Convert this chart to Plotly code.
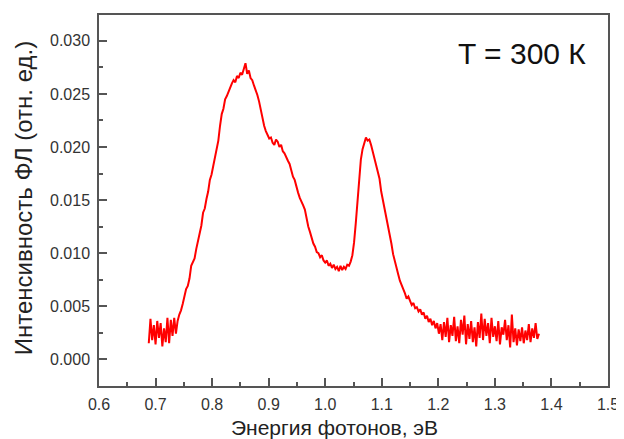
import plotly.graph_objects as go

# Photon energy, eV
energy = [
    0.688, 0.691, 0.694, 0.697, 0.700, 0.703, 0.706, 0.709, 0.712, 0.715,
    0.718, 0.721, 0.724, 0.727, 0.730, 0.733, 0.736, 0.739, 0.742, 0.745,
    0.748, 0.751, 0.754, 0.757, 0.760, 0.763, 0.766, 0.769, 0.772, 0.775,
    0.778, 0.781, 0.784, 0.787, 0.790, 0.793, 0.796, 0.799, 0.802, 0.805,
    0.808, 0.811, 0.814, 0.817, 0.820, 0.823, 0.826, 0.829, 0.832, 0.835,
    0.838, 0.841, 0.844, 0.847, 0.850, 0.853, 0.856, 0.859, 0.862, 0.865,
    0.868, 0.871, 0.874, 0.877, 0.880, 0.883, 0.886, 0.889, 0.892, 0.895,
    0.898, 0.901, 0.904, 0.907, 0.910, 0.913, 0.916, 0.919, 0.922, 0.925,
    0.928, 0.931, 0.934, 0.937, 0.940, 0.943, 0.946, 0.949, 0.952, 0.955,
    0.958, 0.961, 0.964, 0.967, 0.970, 0.973, 0.976, 0.979, 0.982, 0.985,
    0.988, 0.991, 0.994, 0.997, 1.000, 1.003, 1.006, 1.009, 1.012, 1.015,
    1.018, 1.021, 1.024, 1.027, 1.030, 1.033, 1.036, 1.039, 1.042, 1.045,
    1.048, 1.051, 1.054, 1.057, 1.060, 1.063, 1.066, 1.069, 1.072, 1.075,
    1.078, 1.081, 1.084, 1.087, 1.090, 1.093, 1.096, 1.099, 1.102, 1.105,
    1.108, 1.111, 1.114, 1.117, 1.120, 1.123, 1.126, 1.129, 1.132, 1.135,
    1.138, 1.141, 1.144, 1.147, 1.150, 1.153, 1.156, 1.159, 1.162, 1.165,
    1.168, 1.171, 1.174, 1.177, 1.180, 1.183, 1.186, 1.189, 1.192, 1.195,
    1.198, 1.201, 1.204, 1.207, 1.210, 1.213, 1.216, 1.219, 1.222, 1.225,
    1.228, 1.231, 1.234, 1.237, 1.240, 1.243, 1.246, 1.249, 1.252, 1.255,
    1.258, 1.261, 1.264, 1.267, 1.270, 1.273, 1.276, 1.279, 1.282, 1.285,
    1.288, 1.291, 1.294, 1.297, 1.300, 1.303, 1.306, 1.309, 1.312, 1.315,
    1.318, 1.321, 1.324, 1.327, 1.330, 1.333, 1.336, 1.339, 1.342, 1.345,
    1.348, 1.351, 1.354, 1.357, 1.360, 1.363, 1.366, 1.369, 1.372, 1.375,
    1.378,
]

# PL intensity, units of 1e-3 (arb. units)
intensity_milli = [
    1.5, 3.8, 1.8, 3.2, 1.4, 3.6, 2.0, 3.4, 1.2, 2.9,
    1.6, 3.9, 1.5, 3.7, 2.2, 3.9, 2.4, 3.6, 4.2, 4.6,
    5.2, 5.9, 6.6, 6.9, 7.6, 8.8, 9.2, 9.5, 10.4, 11.2,
    11.8, 12.6, 13.8, 14.2, 15.1, 15.8, 16.9, 17.4, 18.2, 19.0,
    20.1, 20.6, 22.0, 23.1, 23.6, 24.5, 24.8, 25.3, 25.6, 26.0,
    26.3, 26.1, 26.7, 26.5, 27.0, 26.8, 27.3, 27.9, 26.9, 27.2,
    26.5, 26.3, 25.8, 25.4, 24.9, 24.3, 23.5, 22.8, 22.0, 21.5,
    21.2, 20.8, 20.9, 20.4, 20.2, 20.7, 20.5, 20.0, 20.2, 19.6,
    19.4, 19.0, 18.7, 18.4, 17.8, 17.2, 16.9, 16.2, 15.7, 15.2,
    14.9, 14.5, 14.1, 13.2, 12.5, 12.0, 11.3, 10.9, 10.6, 10.1,
    10.0, 9.6, 9.8, 9.3, 9.1, 9.3, 8.8, 9.0, 8.6, 8.9,
    8.5, 8.7, 8.3, 8.8, 8.4, 8.7, 8.5, 8.9, 8.8, 9.2,
    9.8, 11.0, 12.8, 14.8, 16.9, 18.8, 19.8, 20.4, 20.9, 20.6,
    20.7, 20.2, 19.5, 19.0, 18.2, 17.6, 17.0, 15.8, 15.0, 14.2,
    13.5, 12.6, 11.8, 10.9, 9.9, 9.2, 8.4, 8.0, 7.4, 6.9,
    6.6, 6.2, 5.7, 5.9, 5.4, 5.1, 5.3, 4.8, 4.9, 4.5,
    4.7, 4.2, 4.4, 3.8, 4.1, 3.5, 3.8, 3.2, 3.6, 2.9,
    3.4, 2.4, 3.3, 1.8, 3.5, 2.1, 3.9, 1.6, 3.2, 2.2,
    4.0, 1.7, 3.1, 1.5, 3.7, 2.3, 4.1, 1.4, 3.3, 1.9,
    3.6, 1.6, 3.0, 1.2, 3.5, 2.0, 4.3, 1.8, 3.8, 2.2,
    3.4, 1.5, 3.9, 2.1, 3.1, 1.7, 3.6, 1.4, 3.0, 2.3,
    3.7, 1.8, 3.2, 1.1, 4.2, 1.6, 2.9, 1.3, 2.8, 1.7,
    3.0, 1.5, 2.7, 1.8, 3.3, 1.6, 2.9, 2.0, 3.4, 1.9,
    2.4,
]
intensity = [v / 1000.0 for v in intensity_milli]

x_ticks = [0.6, 0.7, 0.8, 0.9, 1.0, 1.1, 1.2, 1.3, 1.4, 1.5]
y_ticks = [0.000, 0.005, 0.010, 0.015, 0.020, 0.025, 0.030]

x_title = "Энергия фотонов, эВ"
y_title = "Интенсивность ФЛ (отн. ед.)"
label_text = "T = 300 К"

FONT = "Liberation Sans, Arial, sans-serif"
AX = "#555555"

fig = go.Figure()
fig.add_trace(go.Scatter(x=energy, y=intensity, mode="lines",
                         line=dict(color="#ff0000", width=2),
                         showlegend=False))

# page body has an 8px margin, so the figure is drawn 8px right and down
fig.update_layout(
    width=616, height=431,
    margin=dict(l=91, r=14, t=5, b=53),
    paper_bgcolor="white", plot_bgcolor="white",
    font=dict(family=FONT, color="#333333"),
)

fig.update_xaxes(
    range=[0.6, 1.5], tickvals=x_ticks,
    ticktext=[f"{v:.1f}" for v in x_ticks],
    ticks="inside", ticklen=8, tickwidth=1.5, tickcolor=AX,
    minor=dict(ticks="inside", ticklen=4, tickwidth=1.5, tickcolor=AX,
               tickvals=[0.65, 0.75, 0.85, 0.95, 1.05, 1.15, 1.25, 1.35, 1.45]),
    showline=True, linecolor=AX, linewidth=1.5, mirror=True,
    showgrid=False, zeroline=False, ticklabelstandoff=3,
    ticklabeloverflow="allow",
    tickfont=dict(size=16, color="#333333"),
)
fig.update_yaxes(
    range=[-0.00253, 0.03244], tickvals=y_ticks,
    ticktext=[f"{v:.3f}" for v in y_ticks],
    ticks="inside", ticklen=8, tickwidth=1.5, tickcolor=AX,
    minor=dict(ticks="inside", ticklen=4, tickwidth=1.5, tickcolor=AX,
               tickvals=[-0.0025, 0.0025, 0.0075, 0.0125, 0.0175, 0.0225, 0.0275]),
    showline=True, linecolor=AX, linewidth=1.5, mirror=True,
    showgrid=False, zeroline=False, ticklabelstandoff=4,
    tickfont=dict(size=16, color="#333333"),
)

fig.add_annotation(text=x_title, xref="paper", yref="paper",
                   x=(335 - 99) / 511, y=(386 - 428) / 373,
                   xanchor="center", yanchor="middle", showarrow=False,
                   font=dict(size=21, color="#222222", family=FONT))
fig.add_annotation(text=y_title, xref="paper", yref="paper",
                   x=(23 - 99) / 511, y=(386 - 197) / 373, textangle=-90,
                   xanchor="center", yanchor="middle", showarrow=False,
                   font=dict(size=24, color="#222222", family=FONT))
fig.add_annotation(text=label_text, xref="paper", yref="paper",
                   x=(524 - 99) / 511, y=(386 - 52) / 373,
                   xanchor="center", yanchor="middle", showarrow=False,
                   font=dict(size=30, color="#111111", family=FONT))

fig.write_html("out.html", config={"displayModeBar": False})
